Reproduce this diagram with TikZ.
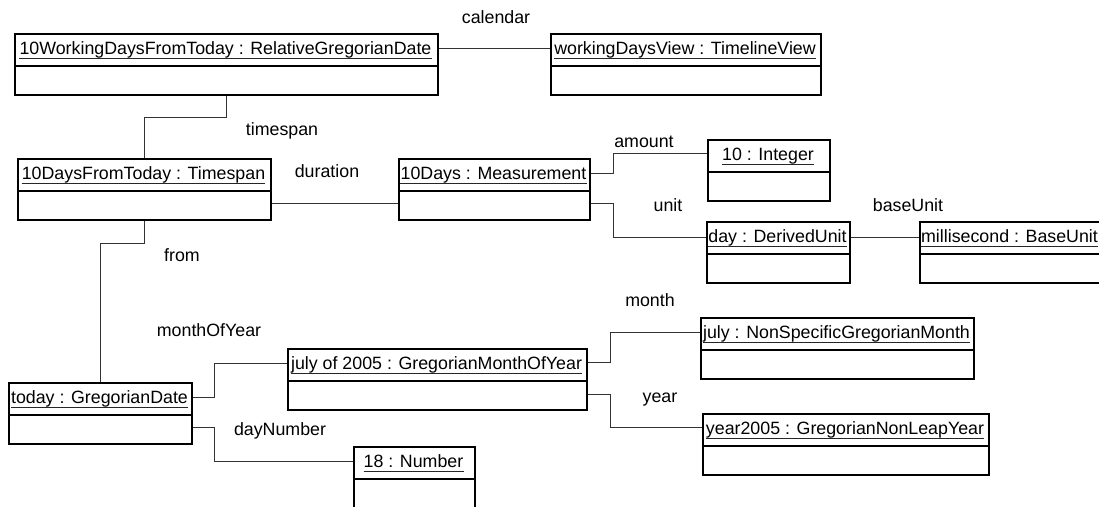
\documentclass[tikz,border=0pt]{standalone}
\usepackage{fontspec}
\setmainfont{Liberation Sans}
\usetikzlibrary{calc}

\tikzset{
  obj/.style={draw=black, line width=1.5pt, fill=white, inner sep=0pt, anchor=north west},
  objline/.style={draw=black, line width=1.5pt},
  objname/.style={inner sep=0pt, anchor=base, font=\fontsize{17.8}{20}\selectfont},
  uline/.style={draw=black!85, line width=0.8pt},
  conn/.style={draw=black!80, line width=1pt},
  role/.style={inner sep=0pt, anchor=base, font=\fontsize{17.8}{20}\selectfont},
}

% object box: name, left, right, top, label
\newcommand\objbox[5]{%
  \node[obj, minimum width={#3-#2}, minimum height=61] (#1) at (#2,#4) {};
  \coordinate (#1-div) at (0,{#4+33});
  \draw[objline] (#1.west |- #1-div) -- (#1.east |- #1-div);
  \node[objname] (#1-name) at ({(#2+#3)/2},{#4+21.5}) {#5};
  \draw[uline] ([yshift=-3.5pt]#1-name.base west) -- ([yshift=-3.5pt]#1-name.base east);
}

\begin{document}
\begin{tikzpicture}[x=1pt, y=-1pt]
  \fill[white] (0,0) rectangle (1099,506);
  \clip (0,0) rectangle (1099,506);

  % objects
  \objbox{b1}{14}{437}{33}{10WorkingDaysFromToday : RelativeGregorianDate}
  \objbox{b2}{550}{820}{33}{workingDaysView : TimelineView}
  \objbox{b3}{17}{270}{158}{10DaysFromToday : Timespan}
  \objbox{b4}{398}{589}{158}{10Days : Measurement}
  \objbox{b5}{707}{829}{139}{10 : Integer}
  \objbox{b6}{706}{849}{221}{day : DerivedUnit}
  \objbox{b7}{919}{1100}{221}{millisecond : BaseUnit}
  \objbox{b8}{8}{191}{382}{today : GregorianDate}
  \objbox{b9}{287}{586}{348}{july of 2005 : GregorianMonthOfYear}
  \objbox{b10}{353}{474}{446}{18 : Number}
  \objbox{b11}{700}{973}{317}{july : NonSpecificGregorianMonth}
  \objbox{b12}{702}{988}{413}{year2005 : GregorianNonLeapYear}

  % bend points of the links
  \coordinate (cal) at (0,48);
  \coordinate (tsA) at (226,117);
  \coordinate (tsB) at (144,117);
  \coordinate (du)  at (0,203);
  \coordinate (amA) at (613,173);
  \coordinate (amB) at (613,153);
  \coordinate (unA) at (613,203);
  \coordinate (unB) at (613,237);
  \coordinate (bu)  at (0,237);
  \coordinate (frA) at (144,243);
  \coordinate (frB) at (100,243);
  \coordinate (moA) at (214,397);
  \coordinate (moB) at (214,363);
  \coordinate (dnA) at (214,427);
  \coordinate (dnB) at (214,461);
  \coordinate (mnA) at (610,362);
  \coordinate (mnB) at (610,332);
  \coordinate (yrA) at (610,394);
  \coordinate (yrB) at (610,427);

  % links
  \draw[conn] (b1.east |- cal) -- (b2.west |- cal);
  \draw[conn] (b1.south -| tsA) -- (tsA) -- (tsB) -- (b3.north -| tsB);
  \draw[conn] (b3.east |- du) -- (b4.west |- du);
  \draw[conn] (b4.east |- amA) -- (amA) -- (amB) -- (b5.west |- amB);
  \draw[conn] (b4.east |- unA) -- (unA) -- (unB) -- (b6.west |- unB);
  \draw[conn] (b6.east |- bu) -- (b7.west |- bu);
  \draw[conn] (b3.south -| frA) -- (frA) -- (frB) -- (b8.north -| frB);
  \draw[conn] (b8.east |- moA) -- (moA) -- (moB) -- (b9.west |- moB);
  \draw[conn] (b8.east |- dnA) -- (dnA) -- (dnB) -- (b10.west |- dnB);
  \draw[conn] (b9.east |- mnA) -- (mnA) -- (mnB) -- (b11.west |- mnB);
  \draw[conn] (b9.east |- yrA) -- (yrA) -- (yrB) -- (b12.west |- yrB);

  % role names
  \node[role] (r-cal) at (496,23) {calendar};
  \node[role] (r-ts)  at (282,135) {timespan};
  \node[role] (r-du)  at (327,177) {duration};
  \node[role] (r-am)  at (644,147) {amount};
  \node[role] (r-un)  at (668,211) {unit};
  \node[role] (r-bu)  at (908,211) {baseUnit};
  \node[role] (r-fr)  at (182,261) {from};
  \node[role] (r-mo)  at (209,336) {monthOfYear};
  \node[role] (r-dn)  at (280,435) {dayNumber};
  \node[role] (r-mn)  at (650,306) {month};
  \node[role] (r-yr)  at (660,402) {year};
\end{tikzpicture}
\end{document}
